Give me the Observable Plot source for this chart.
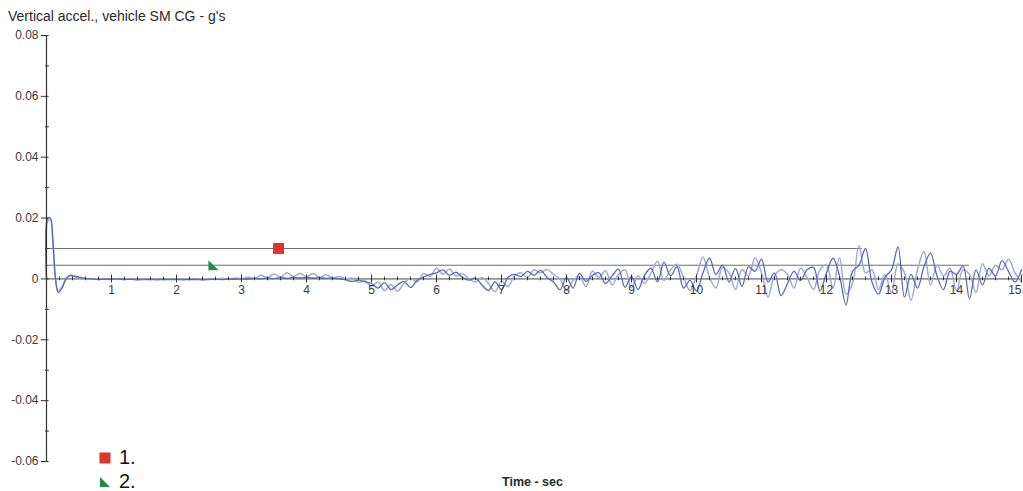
<!DOCTYPE html>
<html>
<head>
<meta charset="utf-8">
<script src="https://cdn.jsdelivr.net/npm/d3@7"></script>
<script src="https://cdn.jsdelivr.net/npm/@observablehq/plot@0.6"></script>
<style>
  html, body { margin: 0; padding: 0; background: #fff; }
  #wrap { position: relative; width: 1023px; height: 491px; font-family: "Liberation Sans", Arial, sans-serif; overflow: hidden; }
  #title { position: absolute; left: 8px; top: 8px; font-size: 14px; color: #2a2a2a; white-space: nowrap; }
  #xlabel { position: absolute; left: 502px; top: 475px; font-size: 12.5px; color: #2a2a2a; font-weight: bold; white-space: nowrap; }
  .leg { position: absolute; left: 99px; font-size: 20px; color: #111; white-space: nowrap; display: flex; align-items: center; }
  .leg svg { margin-right: 8px; }
</style>
</head>
<body>
<div id="wrap">
  <div id="chart"></div>
  <div id="title">Vertical accel., vehicle SM CG - g's</div>
  <div id="xlabel">Time - sec</div>
  <div class="leg" style="top:446px"><svg width="12" height="12"><rect x="0.5" y="0.5" width="11" height="11" fill="#e0352b"/></svg>1.</div>
  <div class="leg" style="top:470px"><svg width="12" height="12"><path d="M1,1 L1,11 L11,11 Z" fill="#1f8a4c"/></svg>2.</div>
</div>
<script>
// ---- data ----
// initial transient
const startTime = [0, 0.02, 0.06, 0.1, 0.14, 0.18, 0.24, 0.3, 0.36, 0.42];
const startA = [0, 0.020, 0.020, 0.012, 0.000, -0.0045, -0.0030, 0.0000, 0.0012, 0.0010];
const startB = [0, 0.019, 0.0195, 0.011, -0.0005, -0.0040, -0.0025, 0.0002, 0.0010, 0.0008];
// sampled every 0.1 s from 0.5 s to 15.0 s
const seriesA = [
  0.0006, 0.0002, 0.0000, -0.0002, -0.0001,
  -0.0001, 0.0000, -0.0002, -0.0001, -0.0003, -0.0002, -0.0002, -0.0003, -0.0002, -0.0002,
  -0.0002, -0.0003, -0.0002, -0.0002, -0.0003, -0.0002, -0.0001, -0.0002, -0.0001, -0.0001,
  0.0000, -0.0001, 0.0002, 0.0000, 0.0003, 0.0001, 0.0004, 0.0002, 0.0005, 0.0003,
  0.0005, 0.0003, 0.0004, 0.0002, 0.0003, 0.0000, -0.0003, -0.0008, -0.0004, -0.0010,
  -0.0015, -0.0030, -0.0012, -0.0035, -0.0020, -0.0008, -0.0028, -0.0005, 0.0006, 0.0015,
  0.0020, 0.0030, 0.0012, 0.0022, 0.0005, -0.0004, 0.0003, -0.0020, -0.0038, -0.0010,
  -0.0035, 0.0005, 0.0015, 0.0008, 0.0025, 0.0012, 0.0028, 0.0005, -0.0010, -0.0035,
  0.0005, -0.0030, 0.0018, -0.0008, 0.0012, 0.0020, -0.0015, 0.0010, 0.0032, -0.0028,
  0.0008, -0.0035, 0.0012, 0.0035, -0.0010, 0.0055, 0.0010, 0.0040, -0.0030, -0.0005,
  -0.0040, 0.0020, 0.0068, 0.0015, 0.0045, -0.0010, 0.0035, -0.0025, 0.0040, 0.0025,
  0.0065, -0.0010, 0.0020, -0.0055, -0.0015, 0.0025, -0.0005, 0.0030, 0.0038, -0.0040,
  0.0020, 0.0068, 0.0010, -0.0085, 0.0025, 0.0045, 0.0100, -0.0010, -0.0050, 0.0005,
  0.0030, 0.0105, -0.0060, 0.0015, -0.0030, 0.0040, 0.0085, 0.0010, -0.0035, 0.0025,
  0.0015, 0.0042, -0.0065, 0.0030, -0.0020, 0.0035, 0.0010, 0.0060, 0.0025, -0.0010,
  0.0030
];
const seriesB = [
  0.0004, 0.0001, 0.0000, 0.0000, -0.0001,
  0.0000, -0.0001, -0.0001, 0.0000, -0.0001, -0.0001, 0.0000, -0.0001, -0.0001, 0.0000,
  -0.0001, 0.0000, -0.0001, -0.0001, 0.0000, 0.0001, 0.0000, 0.0002, 0.0000, 0.0003,
  0.0001, 0.0006, 0.0002, 0.0012, 0.0004, 0.0016, 0.0006, 0.0020, 0.0008, 0.0019,
  0.0007, 0.0018, 0.0005, 0.0014, 0.0003, 0.0008, 0.0000, 0.0003, -0.0012, -0.0006,
  -0.0025, -0.0010, -0.0038, -0.0018, -0.0040, -0.0015, 0.0002, -0.0010, 0.0018, 0.0008,
  0.0035, 0.0015, 0.0033, 0.0010, 0.0018, 0.0000, -0.0010, 0.0005, -0.0015, -0.0042,
  -0.0008, -0.0025, 0.0010, 0.0020, 0.0005, 0.0030, 0.0020, 0.0032, 0.0015, 0.0000,
  -0.0038, -0.0005, 0.0008, -0.0025, 0.0025, 0.0005, 0.0028, -0.0020, 0.0015, 0.0030,
  -0.0030, 0.0010, -0.0015, 0.0020, 0.0058, -0.0005, 0.0030, 0.0048, 0.0005, -0.0038,
  0.0010, 0.0072, 0.0005, -0.0030, 0.0038, 0.0020, -0.0035, 0.0030, 0.0010, 0.0070,
  0.0020, -0.0060, 0.0010, 0.0030, 0.0015, -0.0030, 0.0035, 0.0005, -0.0035, 0.0030,
  0.0045, -0.0030, 0.0070, -0.0050, -0.0015, 0.0110, 0.0020, 0.0030, -0.0035, 0.0015,
  -0.0045, 0.0050, 0.0020, -0.0070, 0.0030, 0.0090, -0.0020, 0.0045, 0.0010, 0.0035,
  -0.0040, 0.0030, 0.0015, -0.0045, 0.0050, 0.0010, 0.0045, 0.0030, 0.0065, 0.0020,
  -0.0010
];
// reference lines (level, end time)
const refLevels = [0.010, 0.0045];
const refEnds = [12.55, 14.2];
// markers
const marker1 = {t: 3.57, v: 0.010};
const marker2 = {t: 2.57, v: 0.0045};
// tick labels
const yMajor = [0.08, 0.06, 0.04, 0.02, 0, -0.02, -0.04, -0.06];
const yLabels = ["0.08", "0.06", "0.04", "0.02", "0", "-0.02", "-0.04", "-0.06"];
const yMinor = [0.07, 0.05, 0.03, 0.01, -0.01, -0.03, -0.05];
const xMajor = [1, 2, 3, 4, 5, 6, 7, 8, 9, 10, 11, 12, 13, 14, 15];
const xLabels = ["1", "2", "3", "4", "5", "6", "7", "8", "9", "10", "11", "12", "13", "14", "15"];

// ---- build tables ----
const gridTime = seriesA.map((_, i) => Math.round((0.5 + i * 0.1) * 100) / 100);
const rowsA = startTime.map((t, i) => ({t, v: startA[i]})).concat(gridTime.map((t, i) => ({t, v: seriesA[i]})));
const rowsB = startTime.map((t, i) => ({t, v: startB[i]})).concat(gridTime.map((t, i) => ({t, v: seriesB[i]})));
const refRows = refLevels.map((v, i) => ({v, end: refEnds[i]}));
const xMinor = d3.range(1, 75).map(i => i / 5).filter(d => Math.abs(d - Math.round(d)) > 1e-6);
const xLabelRows = xMajor.map((x, i) => ({x, label: xLabels[i], last: i === xMajor.length - 1}));
const triangle = {
  draw(context, size) {
    const s = Math.sqrt(size) * 1.15;
    context.moveTo(-s / 2, -s / 2);
    context.lineTo(-s / 2, s / 2);
    context.lineTo(s / 2, s / 2);
    context.closePath();
  }
};

const fontFam = "Liberation Sans, Arial, sans-serif";
const chart = Plot.plot({
  width: 1023,
  height: 491,
  marginLeft: 46,
  marginRight: 2,
  marginTop: 35,
  marginBottom: 30,
  style: {background: "transparent", fontFamily: fontFam},
  x: {domain: [0, 15], axis: null},
  y: {domain: [-0.06, 0.08], axis: null},
  marks: [
    // reference lines
    Plot.ruleY(refRows, {y: "v", x1: 0, x2: "end", stroke: "#6f6f6f", strokeWidth: 1}),
    // zero baseline
    Plot.ruleY([0], {x1: 0, x2: 15, stroke: "#444", strokeWidth: 1}),
    // series
    Plot.line(rowsB, {x: "t", y: "v", stroke: "#a3a9d8", strokeWidth: 1.5, curve: "catmull-rom"}),
    Plot.line(rowsA, {x: "t", y: "v", stroke: "#5a6cb8", strokeWidth: 1.3, curve: "catmull-rom"}),
    // x ticks on zero line
    Plot.ruleX(xMinor, {x: d => d, y1: -0.0006, y2: 0.0006, stroke: "#333", strokeWidth: 1}),
    Plot.ruleX(xMajor, {x: d => d, y1: -0.0013, y2: 0.0013, stroke: "#333", strokeWidth: 1}),
    Plot.text(xLabelRows.filter(d => !d.last), {x: "x", y: 0, text: "label", dy: 11, fontSize: 12, fill: "#3a3a3a"}),
    Plot.text(xLabelRows.filter(d => d.last), {x: "x", y: 0, text: "label", dy: 11, textAnchor: "end", fontSize: 12, fill: "#3a3a3a"}),
    // y axis
    Plot.ruleX([0], {y1: -0.06, y2: 0.08, stroke: "#333", strokeWidth: 1.2}),
    Plot.ruleY(yMajor, {y: d => d, x1: -0.08, x2: 0.04, stroke: "#333", strokeWidth: 1}),
    Plot.ruleY(yMinor, {y: d => d, x1: -0.015, x2: 0.045, stroke: "#333", strokeWidth: 1}),
    Plot.text(yMajor, {x: 0, y: d => d, text: (d, i) => yLabels[i], dx: -8, textAnchor: "end", fontSize: 12, fill: "#3a3a3a"}),
    // markers
    Plot.dot([marker1], {x: "t", y: "v", symbol: "square", r: 6.2, fill: "#e0352b", stroke: "none"}),
    Plot.dot([marker2], {x: "t", y: "v", symbol: triangle, r: 5, fill: "#1f8a4c", stroke: "none"})
  ]
});
document.getElementById("chart").appendChild(chart);
</script>
</body>
</html>
